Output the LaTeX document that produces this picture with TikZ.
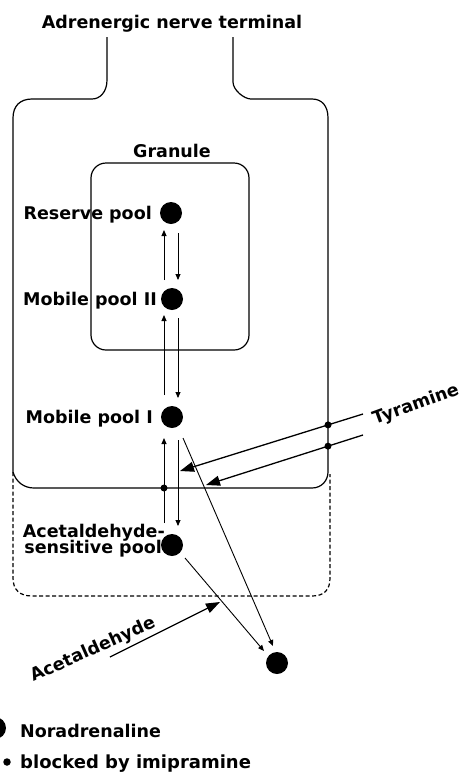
\documentclass[tikz,border=0pt]{standalone}
\usepackage{fontspec}
\setmainfont{DejaVu Sans}
\usetikzlibrary{arrows.meta,calc}

\begin{document}
\begin{tikzpicture}[x=1pt,y=-1pt,
  lbl/.style={font=\fontsize{17.5}{17}\selectfont\bfseries, inner sep=0pt},
  pool/.style={circle, fill=black, minimum size=22pt, inner sep=0pt},
  junc/.style={circle, fill=black, minimum size=7pt, inner sep=0pt},
  membrane/.style={line width=1.2pt, line join=round},
  vesicle/.style={line width=1.2pt, dash pattern=on 4pt off 2.5pt},
  flow/.style={line width=0.9pt, -{Triangle[length=6pt,width=5pt]}},
  drug/.style={line width=1.3pt, -{Triangle[length=14pt,width=10pt]}},
]
\useasboundingbox (0,0) rectangle (463,772);

% nerve terminal membrane
\draw[membrane] (107,37) -- (107,80) .. controls (107,92) and (100,99) .. (92,99)
  -- (32,99) .. controls (20,99) and (13,106) .. (13,118)
  -- (13,472) .. controls (16,482) and (24,488) .. (34,488)
  -- (312,488) .. controls (322,488) and (328,480) .. (328,472)
  -- (328,118) .. controls (328,106) and (322,99) .. (312,99)
  -- (251,99) .. controls (244,99) and (233,90) .. (233,82) -- (233,37);

% acetaldehyde-sensitive compartment
\draw[vesicle] (13,472) -- (13,578) .. controls (13,590) and (20,596) .. (32,596)
  -- (312,596) .. controls (324,596) and (330,590) .. (330,578) -- (330,474);

% granule
\draw[membrane] (91,350) [rounded corners=15pt] -- (91,163) -- (249,163) -- (249,350) -- cycle;

% labels
\node[lbl] (title) at (172,28) [anchor=base] {Adrenergic nerve terminal};
\node[lbl] (granule) at (172,157) [anchor=base] {Granule};
\node[lbl, anchor=base east] (lres) at (152,219) {Reserve pool};
\node[lbl, anchor=base east] (lmob2) at (157,305) {Mobile pool II};
\node[lbl, anchor=base east] (lmob1) at (153,423) {Mobile pool I};
\node[lbl, anchor=base east] (lacet1) at (165,537) {Acetaldehyde-};
\node[lbl, anchor=base east] (lacet2) at (162,553) {sensitive pool};

% noradrenaline pools
\node[pool] (reserve) at (171,213) {};
\node[pool] (mob2) at (172,299) {};
\node[pool] (mob1) at (172,417) {};
\node[pool] (acet) at (172,545) {};
\node[pool] (out) at (277,663) {};

% exchange between pools
\draw[flow] ($(mob2)+(-8,-19)$) -- ($(reserve)+(-7,17)$);
\draw[flow] ($(reserve)+(7,20)$) -- ($(mob2)+(6,-19)$);
\draw[flow] ($(mob1)+(-8,-22)$) -- ($(mob2)+(-8,16)$);
\draw[flow] ($(mob2)+(6,19)$) -- ($(mob1)+(6,-19)$);
\draw[flow] ($(acet)+(-8,-22)$) -- ($(mob1)+(-8,21)$);
\draw[flow] ($(mob1)+(6,23)$) -- ($(acet)+(6,-19)$);
\node[junc] (jA) at (164,488) {};

% release
\draw[flow] ($(mob1)+(11,21)$) -- ($(out)+(-4,-17)$);
\draw[flow] ($(acet)+(13,13)$) -- ($(out)+(-13,-12)$);

% tyramine
\coordinate (tyrA) at (363,414);
\coordinate (tipA) at (180,471);
\coordinate (tyrB) at (363,435);
\coordinate (tipB) at (206,485);
\draw[drug] (tyrA) -- (tipA);
\draw[drug] (tyrB) -- (tipB);
\node[junc] (jT1) at ($(tyrA)!0.191!(tipA)$) {};
\node[junc] (jT2) at ($(tyrB)!0.223!(tipB)$) {};
\node[lbl, rotate=20] (tyr) at (416,405) {Tyramine};

% acetaldehyde
\coordinate (acA) at (110,657);
\coordinate (acTip) at (220,602);
\draw[drug] (acA) -- (acTip);
\node[lbl, rotate=24] (acl) at (93,650) {Acetaldehyde};

% legend
\node[pool] (key1) at (-5,728) {};
\node[lbl, anchor=base west] (leg1) at (20,737) {Noradrenaline};
\node[junc, minimum size=7.5pt] (key2) at (7,762) {};
\node[lbl, anchor=base west, font=\fontsize{18}{18}\selectfont\bfseries] (leg2) at (20,768) {blocked by imipramine};
\end{tikzpicture}
\end{document}
